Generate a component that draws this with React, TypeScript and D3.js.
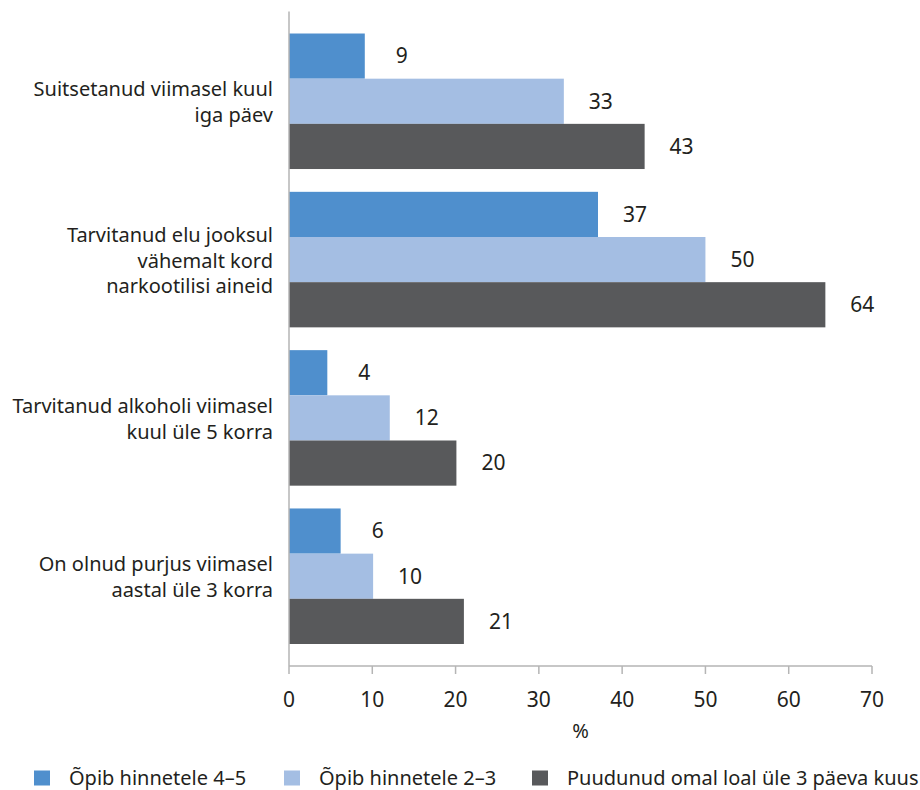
import React from 'react';
import * as d3 from 'd3';

const width = 920;
const height = 790;
const margin = {top: 11.5, right: 47, bottom: 124, left: 289};
const xMax = 70;

const categories = [
  ['Suitsetanud viimasel kuul', 'iga päev'],
  ['Tarvitanud elu jooksul', 'vähemalt kord', 'narkootilisi aineid'],
  ['Tarvitanud alkoholi viimasel', 'kuul üle 5 korra'],
  ['On olnud purjus viimasel', 'aastal üle 3 korra'],
];
const seriesNames = ['Õpib hinnetele 4–5', 'Õpib hinnetele 2–3', 'Puudunud omal loal üle 3 päeva kuus'];
const seriesColors = ['#4f8fcd', '#a4bee3', '#58595b'];

const grades45 = [9.1, 37.1, 4.6, 6.2];
const grades23 = [33.0, 50.0, 12.1, 10.1];
const truants = [42.7, 64.4, 20.1, 21.0];
const grades45Labels = ['9', '37', '4', '6'];
const grades23Labels = ['33', '50', '12', '10'];
const truantsLabels = ['43', '64', '20', '21'];

const xTicks = [0, 10, 20, 30, 40, 50, 60, 70];

const font = '"Noto Sans", sans-serif';
const textColor = '#231f20';
const axisColor = '#b5b5b5';

const App: React.FC = () => {
  const values = [grades45, grades23, truants];
  const labels = [grades45Labels, grades23Labels, truantsLabels];

  const xScale = d3.scaleLinear()
    .domain([0, xMax])
    .range([margin.left, width - margin.right - 1]);

  const yScale = d3.scaleBand<number>()
    .domain(d3.range(categories.length))
    .range([margin.top, height - margin.bottom])
    .paddingInner(0.144)
    .paddingOuter(0.139);

  const inner = d3.scaleBand<number>()
    .domain(d3.range(seriesNames.length))
    .range([0, yScale.bandwidth()]);

  const axisY = height - margin.bottom;
  const legendX = [34, 284, 532];

  return (
    <svg width={width} height={height} style={{position: 'absolute', left: 0, top: 0}}
      fontFamily={font} fill={textColor}>
      {categories.map((lines, ci) => {
        const y0 = yScale(ci) as number;
        return (
          <g key={ci} transform={`translate(0, ${y0})`}>
            {values.map((series, si) => (
              <g key={si}>
                <rect x={xScale(0)} y={inner(si)} width={xScale(series[ci]) - xScale(0)}
                  height={inner.bandwidth()} fill={seriesColors[si]} />
                <text x={xScale(series[ci]) + 37} y={(inner(si) as number) + inner.bandwidth() / 2}
                  dy='0.35em' textAnchor='middle' fontSize={21}>{labels[si][ci]}</text>
              </g>
            ))}
            <text x={margin.left - 16} y={yScale.bandwidth() / 2} textAnchor='end' fontSize={20}>
              {lines.map((line, li) => (
                <tspan key={li} x={margin.left - 16}
                  dy={li === 0 ? `${0.4 - (lines.length - 1) * 0.64}em` : '1.28em'}>{line}</tspan>
              ))}
            </text>
          </g>
        );
      })}

      <line x1={xScale(0)} x2={xScale(0)} y1={margin.top} y2={axisY} stroke={axisColor} strokeWidth={1.5} />
      <line x1={xScale(0)} x2={xScale(xMax)} y1={axisY} y2={axisY} stroke={axisColor} strokeWidth={1.5} />
      {xTicks.map(t => (
        <g key={t} transform={`translate(${xScale(t)}, ${axisY})`}>
          <line y1={0} y2={8} stroke={axisColor} strokeWidth={1.5} />
          <text y={34} dy='0.35em' textAnchor='middle' fontSize={21}>{t}</text>
        </g>
      ))}
      <text x={(xScale(0) + xScale(xMax)) / 2} y={731} dy='0.35em' textAnchor='middle' fontSize={20}>%</text>

      <g transform='translate(0, 778)'>
        {seriesNames.map((name, i) => (
          <g key={name} transform={`translate(${legendX[i]}, 0)`}>
            <rect x={0} y={-7.5} width={16} height={15} fill={seriesColors[i]} />
            <text x={35} dy='0.35em' fontSize={20}>{name}</text>
          </g>
        ))}
      </g>
    </svg>
  );
};

export default App;
